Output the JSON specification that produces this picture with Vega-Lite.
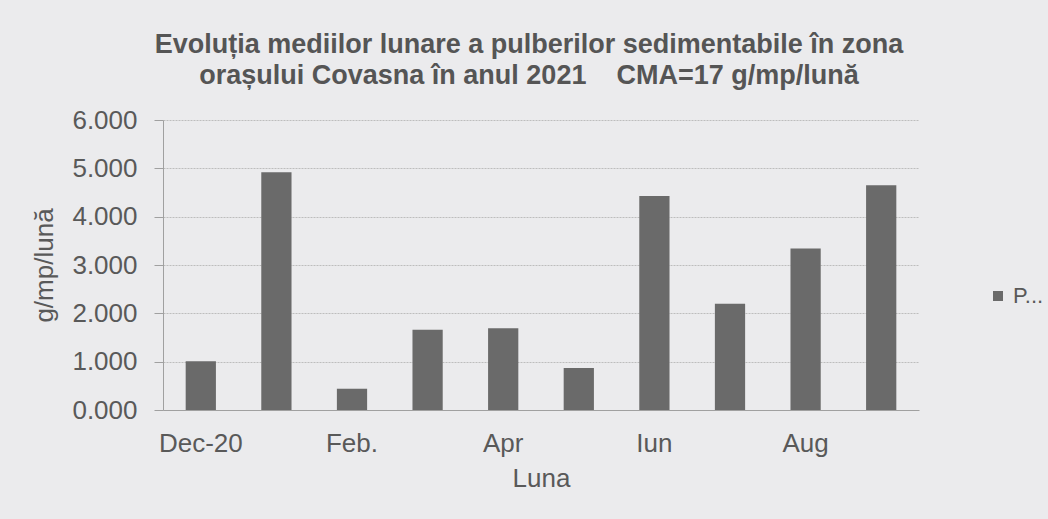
{
  "$schema": "https://vega.github.io/schema/vega-lite/v6.json",
  "width": 756,
  "height": 290,
  "autosize": {"type": "none"},
  "padding": {"left": 163, "top": 120, "right": 129, "bottom": 109},
  "background": "#ebebed",
  "title": {
    "text": ["Evoluția mediilor lunare a pulberilor sedimentabile în zona", "orașului Covasna în anul 2021\u00a0\u00a0\u00a0\u00a0CMA=17 g/mp/lună"],
    "font": "Liberation Sans",
    "fontSize": 27,
    "fontWeight": "bold",
    "color": "#555555",
    "anchor": "middle",
    "dx": -12,
    "offset": 17,
    "lineHeight": 31
  },
  "data": {
    "values": [
      {"luna": "Dec-20", "valoare": 1.01, "serie": "P..."},
      {"luna": "Ian", "valoare": 4.92, "serie": "P..."},
      {"luna": "Feb.", "valoare": 0.44, "serie": "P..."},
      {"luna": "Mar", "valoare": 1.66, "serie": "P..."},
      {"luna": "Apr", "valoare": 1.69, "serie": "P..."},
      {"luna": "Mai", "valoare": 0.87, "serie": "P..."},
      {"luna": "Iun", "valoare": 4.43, "serie": "P..."},
      {"luna": "Iul", "valoare": 2.20, "serie": "P..."},
      {"luna": "Aug", "valoare": 3.34, "serie": "P..."},
      {"luna": "Sep", "valoare": 4.65, "serie": "P..."}
    ]
  },
  "mark": {"type": "bar"},
  "encoding": {
    "x": {
      "field": "luna",
      "type": "nominal",
      "sort": null,
      "scale": {"paddingInner": 0.6, "paddingOuter": 0.3},
      "axis": {
        "values": ["Dec-20", "Feb.", "Apr", "Iun", "Aug"],
        "title": "Luna",
        "labelAngle": 0,
        "ticks": false,
        "grid": false,
        "domainColor": "#a0a0a0",
        "labelPadding": 20,
        "labelFont": "Liberation Sans",
        "labelFontSize": 26,
        "labelColor": "#595959",
        "titleFont": "Liberation Sans",
        "titleFontSize": 26,
        "titleFontWeight": "normal",
        "titleColor": "#595959",
        "titlePadding": 9
      }
    },
    "y": {
      "field": "valoare",
      "type": "quantitative",
      "scale": {"domain": [0, 6], "nice": false},
      "axis": {
        "values": [0, 1, 2, 3, 4, 5, 6],
        "format": ".3f",
        "title": "g/mp/lună",
        "grid": true,
        "gridColor": "#bdbdbd",
        "gridDash": [2, 1],
        "domainColor": "#a0a0a0",
        "tickColor": "#a0a0a0",
        "tickSize": 9,
        "labelPadding": 17,
        "labelFont": "Liberation Sans",
        "labelFontSize": 26,
        "labelColor": "#595959",
        "titleFont": "Liberation Sans",
        "titleFontSize": 26,
        "titleFontWeight": "normal",
        "titleColor": "#595959",
        "titlePadding": 14
      }
    },
    "color": {
      "field": "serie",
      "type": "nominal",
      "scale": {"range": ["#6a6a6a"]},
      "legend": {
        "orient": "none",
        "legendX": 824,
        "legendY": 165,
        "title": null,
        "symbolType": "square",
        "symbolSize": 100,
        "symbolStrokeWidth": 0,
        "labelFont": "Liberation Sans",
        "labelFontSize": 22,
        "labelColor": "#595959"
      }
    }
  },
  "config": {"view": {"stroke": null}}
}
